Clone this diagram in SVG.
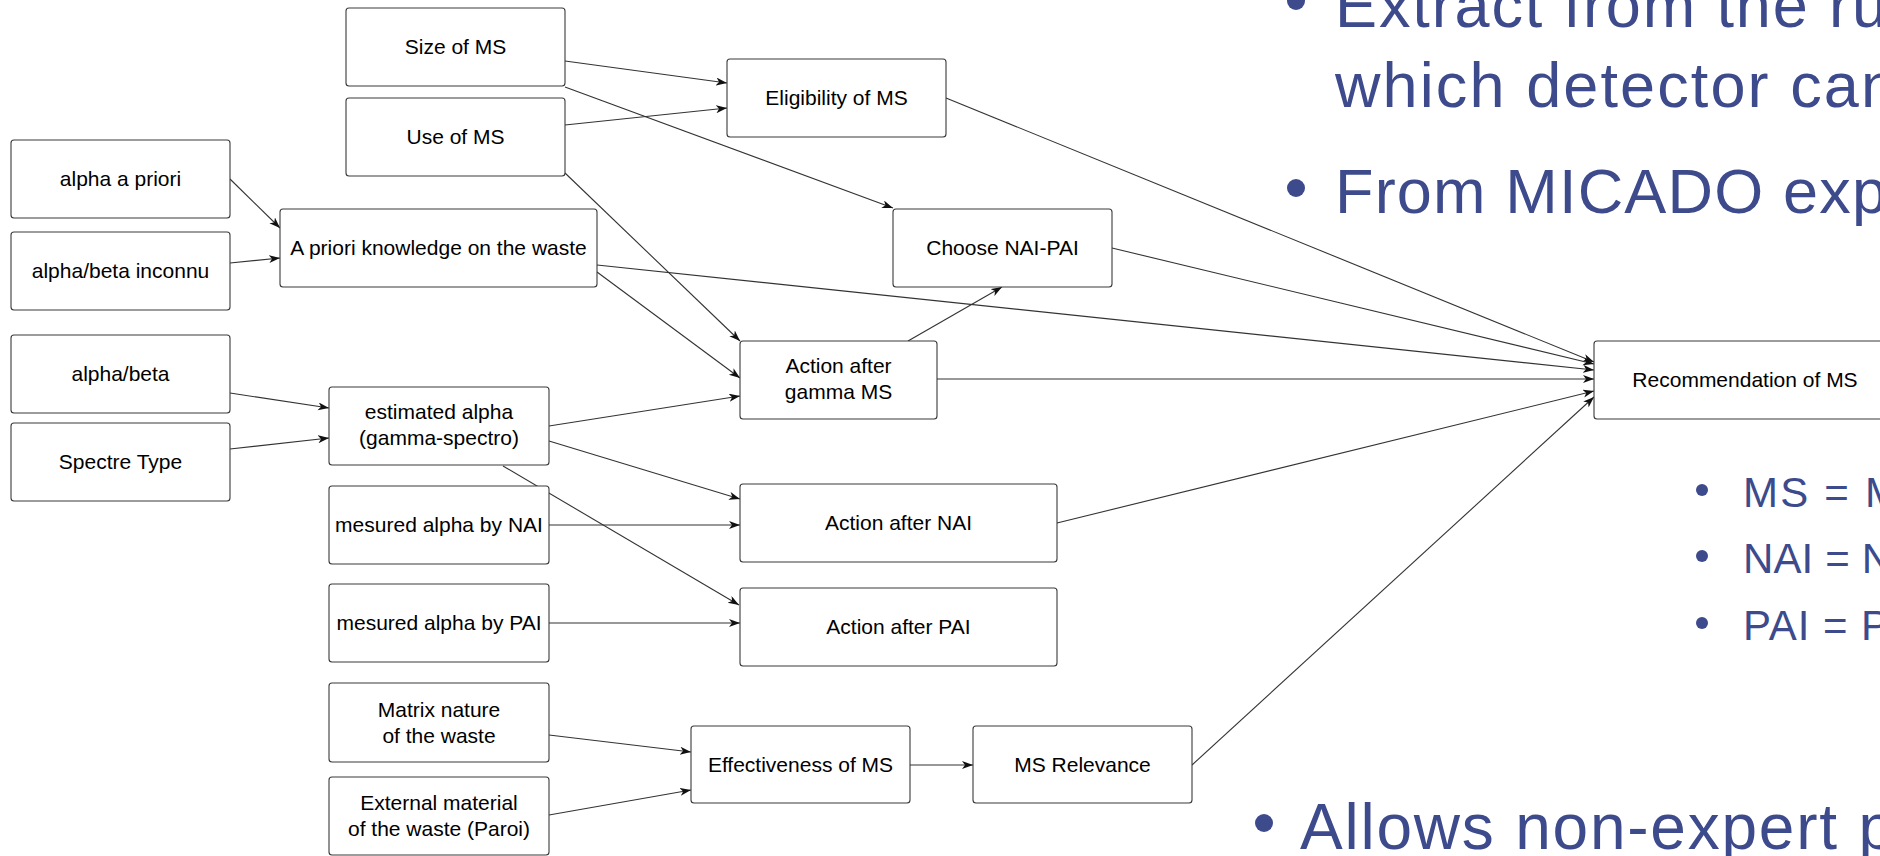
<svg xmlns="http://www.w3.org/2000/svg" width="1880" height="856" viewBox="0 0 1880 856">
<style>
.box rect{fill:#fff;stroke:#3a3a3a;stroke-width:1.1}
.box text{font-family:"Liberation Sans",Arial,sans-serif;font-size:21px;fill:#000;text-anchor:middle}
.edge line{stroke:#333;stroke-width:1.1;fill:none;marker-end:url(#arr)}
.slide{font-family:"Liberation Sans",Arial,sans-serif;fill:#3d4a8b}
.big{font-size:63px}
.small{font-size:42px}
</style>
<defs>
<marker id="arr" markerUnits="userSpaceOnUse" markerWidth="12" markerHeight="9" refX="11" refY="4" orient="auto">
<path d="M0,0 L11,4 L0,8 L3,4 Z" fill="#111"/>
</marker>
</defs>
<rect width="1880" height="856" fill="#fff"/>

<g id="slide-text">
<circle class="slide" cx="1296" cy="1" r="9"/>
<text class="slide big" x="1335" y="27" textLength="552" lengthAdjust="spacing">Extract from the ru</text>
<text class="slide big" x="1335" y="107" textLength="561" lengthAdjust="spacing">which detector can</text>
<circle class="slide" cx="1296" cy="188" r="9"/>
<text class="slide big" x="1335" y="213" textLength="552" lengthAdjust="spacing">From MICADO exp</text>
<circle class="slide" cx="1702" cy="490" r="6"/>
<text class="slide small" x="1743" y="507" textLength="157" lengthAdjust="spacing">MS = M</text>
<circle class="slide" cx="1702" cy="556" r="6"/>
<text class="slide small" x="1743" y="573" textLength="149" lengthAdjust="spacing">NAI = N</text>
<circle class="slide" cx="1702" cy="623" r="6"/>
<text class="slide small" x="1743" y="640" textLength="146" lengthAdjust="spacing">PAI = P</text>
<circle class="slide" cx="1264" cy="823" r="9"/>
<text class="slide" style="font-size:64px" x="1300" y="849" textLength="594" lengthAdjust="spacing">Allows non-expert p</text>
</g>

<g id="connectors" class="edge">
<line x1="565" y1="61" x2="727" y2="83"/>
<line x1="565" y1="125" x2="727" y2="108"/>
<line x1="565" y1="87" x2="893" y2="208"/>
<line x1="565" y1="173" x2="740" y2="341"/>
<line x1="597" y1="272" x2="740" y2="378"/>
<line x1="597" y1="265" x2="1594" y2="370"/>
<line x1="230" y1="179" x2="280" y2="228"/>
<line x1="230" y1="263" x2="280" y2="258"/>
<line x1="230" y1="393" x2="329" y2="408"/>
<line x1="230" y1="449" x2="329" y2="438"/>
<line x1="549" y1="426" x2="740" y2="396"/>
<line x1="549" y1="441" x2="740" y2="499"/>
<line x1="503" y1="466" x2="739" y2="605"/>
<line x1="549" y1="525" x2="740" y2="525"/>
<line x1="549" y1="623" x2="740" y2="623"/>
<line x1="908" y1="341" x2="1002" y2="287"/>
<line x1="937" y1="379" x2="1594" y2="379"/>
<line x1="946" y1="98" x2="1594" y2="362"/>
<line x1="1112" y1="248" x2="1594" y2="364"/>
<line x1="1057" y1="523" x2="1594" y2="391"/>
<line x1="1192" y1="765" x2="1594" y2="397"/>
<line x1="549" y1="735" x2="691" y2="752"/>
<line x1="549" y1="815" x2="691" y2="790"/>
<line x1="910" y1="765" x2="973" y2="765"/>
</g>

<g id="size-ms" class="box"><rect x="346" y="8" width="219" height="78" rx="3"/><text x="455.5" y="54">Size of MS</text></g>
<g id="use-ms" class="box"><rect x="346" y="98" width="219" height="78" rx="3"/><text x="455.5" y="144">Use of MS</text></g>
<g id="eligibility" class="box"><rect x="727" y="59" width="219" height="78" rx="3"/><text x="836.5" y="105">Eligibility of MS</text></g>
<g id="alpha-a-priori" class="box"><rect x="11" y="140" width="219" height="78" rx="3"/><text x="120.5" y="186">alpha a priori</text></g>
<g id="alpha-beta-inconnu" class="box"><rect x="11" y="232" width="219" height="78" rx="3"/><text x="120.5" y="278">alpha/beta inconnu</text></g>
<g id="a-priori-knowledge" class="box"><rect x="280" y="209" width="317" height="78" rx="3"/><text x="438.5" y="255">A priori knowledge on the waste</text></g>
<g id="choose-nai-pai" class="box"><rect x="893" y="209" width="219" height="78" rx="3"/><text x="1002.5" y="255">Choose NAI-PAI</text></g>
<g id="alpha-beta" class="box"><rect x="11" y="335" width="219" height="78" rx="3"/><text x="120.5" y="381">alpha/beta</text></g>
<g id="spectre-type" class="box"><rect x="11" y="423" width="219" height="78" rx="3"/><text x="120.5" y="469">Spectre Type</text></g>
<g id="estimated-alpha" class="box"><rect x="329" y="387" width="220" height="78" rx="3"/><text x="439" y="419">estimated alpha</text><text x="439" y="445">(gamma-spectro)</text></g>
<g id="action-gamma" class="box"><rect x="740" y="341" width="197" height="78" rx="3"/><text x="838.5" y="373">Action after</text><text x="838.5" y="399">gamma MS</text></g>
<g id="recommendation" class="box"><rect x="1594" y="341" width="302" height="78" rx="3"/><text x="1745" y="387">Recommendation of MS</text></g>
<g id="mesured-nai" class="box"><rect x="329" y="486" width="220" height="78" rx="3"/><text x="439" y="532">mesured alpha by NAI</text></g>
<g id="action-nai" class="box"><rect x="740" y="484" width="317" height="78" rx="3"/><text x="898.5" y="530">Action after NAI</text></g>
<g id="mesured-pai" class="box"><rect x="329" y="584" width="220" height="78" rx="3"/><text x="439" y="630">mesured alpha by PAI</text></g>
<g id="action-pai" class="box"><rect x="740" y="588" width="317" height="78" rx="3"/><text x="898.5" y="634">Action after PAI</text></g>
<g id="matrix-nature" class="box"><rect x="329" y="683" width="220" height="79" rx="3"/><text x="439" y="717">Matrix nature</text><text x="439" y="743">of the waste</text></g>
<g id="external-material" class="box"><rect x="329" y="777" width="220" height="78" rx="3"/><text x="439" y="810">External material</text><text x="439" y="836">of the waste (Paroi)</text></g>
<g id="effectiveness" class="box"><rect x="691" y="726" width="219" height="77" rx="3"/><text x="800.5" y="772">Effectiveness of MS</text></g>
<g id="ms-relevance" class="box"><rect x="973" y="726" width="219" height="77" rx="3"/><text x="1082.5" y="772">MS Relevance</text></g>
</svg>
